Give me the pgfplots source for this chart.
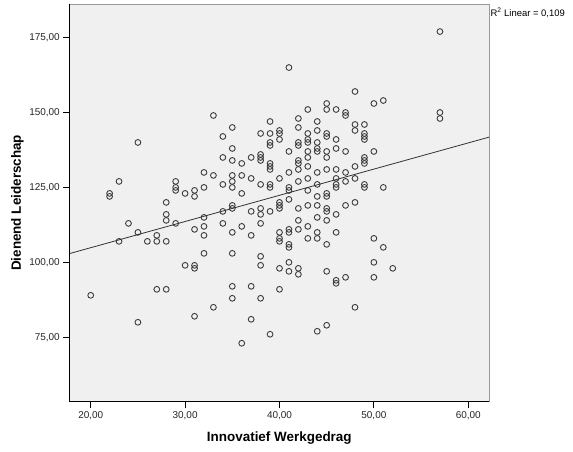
\documentclass[border=0pt]{standalone}
\usepackage{fontspec}
\setmainfont{Liberation Sans}
\usepackage{pgfplots}
\usepackage{pgfplotstable}
\pgfplotsset{compat=1.18}
\definecolor{plotbg}{HTML}{F0F0F0}
\definecolor{markc}{HTML}{3C3C3C}

% Innovatief Werkgedrag (x) versus Dienend Leiderschap (y)
\pgfplotstableread{
x y
20 89
22 123
22 122
23 127
23 107
24 113
25 140
25 110
25 80
26 107
27 109
27 107
27 91
28 120
28 116
28 114
28 107
28 91
29 127
29 125
29 124
29 113
30 123
30 99
31 124
31 122
31 111
31 99
31 98
31 82
32 130
32 125
32 115
32 112
32 109
32 103
33 149
33 129
33 85
34 142
34 135
34 126
34 117
34 113
35 145
35 138
35 134
35 129
35 127
35 125
35 119
35 118
35 110
35 103
35 92
35 88
36 133
36 129
36 123
36 112
36 73
37 135
37 128
37 117
37 109
37 92
37 81
38 143
38 136
38 135
38 134
38 126
38 118
38 116
38 113
38 102
38 99
38 88
39 147
39 143
39 140
39 139
39 133
39 132
39 131
39 126
39 125
39 117
39 76
40 144
40 143
40 141
40 128
40 120
40 119
40 118
40 110
40 108
40 107
40 98
40 91
41 165
41 137
41 130
41 125
41 124
41 121
41 111
41 110
41 106
41 105
41 100
41 97
42 148
42 145
42 140
42 139
42 134
42 133
42 131
42 127
42 118
42 114
42 111
42 98
42 96
43 151
43 143
43 141
43 140
43 137
43 135
43 132
43 128
43 124
43 119
43 112
43 108
44 147
44 144
44 140
44 138
44 137
44 130
44 126
44 122
44 119
44 115
44 110
44 108
44 77
45 153
45 151
45 143
45 142
45 137
45 135
45 131
45 123
45 122
45 118
45 117
45 114
45 106
45 97
45 79
46 151
46 141
46 138
46 131
46 128
46 126
46 125
46 116
46 110
46 94
46 93
47 150
47 149
47 137
47 130
47 127
47 119
47 95
48 157
48 146
48 144
48 132
48 128
48 120
48 85
49 146
49 143
49 142
49 141
49 135
49 134
49 133
49 126
49 125
50 153
50 137
50 108
50 100
50 95
51 154
51 125
51 105
52 98
57 177
57 150
57 148
}\scatterdata

\begin{document}
\begin{tikzpicture}
\path[use as bounding box] (-69.3bp,-50.3bp) rectangle (503.7bp,401.7bp);
\begin{axis}[
  scale only axis,
  width=420bp, height=397.7bp,
  xmin=17.73, xmax=62.23,
  ymin=53.5, ymax=186.2,
  axis background/.style={fill=plotbg},
  axis line style={draw=black!40, line width=0.8bp},
  xtick={20,30,40,50,60},
  ytick={75,100,125,150,175},
  tick pos=left,
  tick align=outside,
  major tick length=6bp,
  tick style={black, line width=0.8bp},
  ticklabel style={font=\fontsize{10}{12}\selectfont, text=black!85},
  /pgf/number format/fixed,
  /pgf/number format/fixed zerofill,
  /pgf/number format/precision=2,
  /pgf/number format/use comma,
  /pgf/number format/1000 sep={},
  /pgf/number format/assume math mode=true,
  xlabel={Innovatief Werkgedrag},
  ylabel={Dienend Leiderschap},
  label style={font=\fontsize{13.5}{16}\selectfont\bfseries},
  x label style={at={(axis description cs:0.5,0)}, anchor=base, yshift=-39.3bp},
  % rotated label: its local y axis points left
  y label style={at={(axis description cs:0,0.5)}, anchor=base, yshift=48.3bp},
  clip mode=individual,
]
\addplot[only marks, mark=o, mark size=2.9bp,
  mark options={draw=markc, line width=0.9bp}] table[x=x, y=y] {\scatterdata};
% fitted linear trend
\addplot[black!80, line width=0.8bp] coordinates {(17.73,102.9) (62.23,141.8)};
\coordinate (tl) at (rel axis cs:0,1);
\coordinate (bl) at (rel axis cs:0,0);
\coordinate (br) at (rel axis cs:1,0);
\coordinate (tr) at (rel axis cs:1,1);
\end{axis}
\draw[black, line width=1.2bp] (tl) -- (bl) -- (br);
\node[anchor=base west, inner sep=0pt, font=\fontsize{9.5}{11}\selectfont]
  at ([xshift=1bp, yshift=-12.7bp]tr) {R\textsuperscript{2} Linear = 0,109};
\end{tikzpicture}
\end{document}
